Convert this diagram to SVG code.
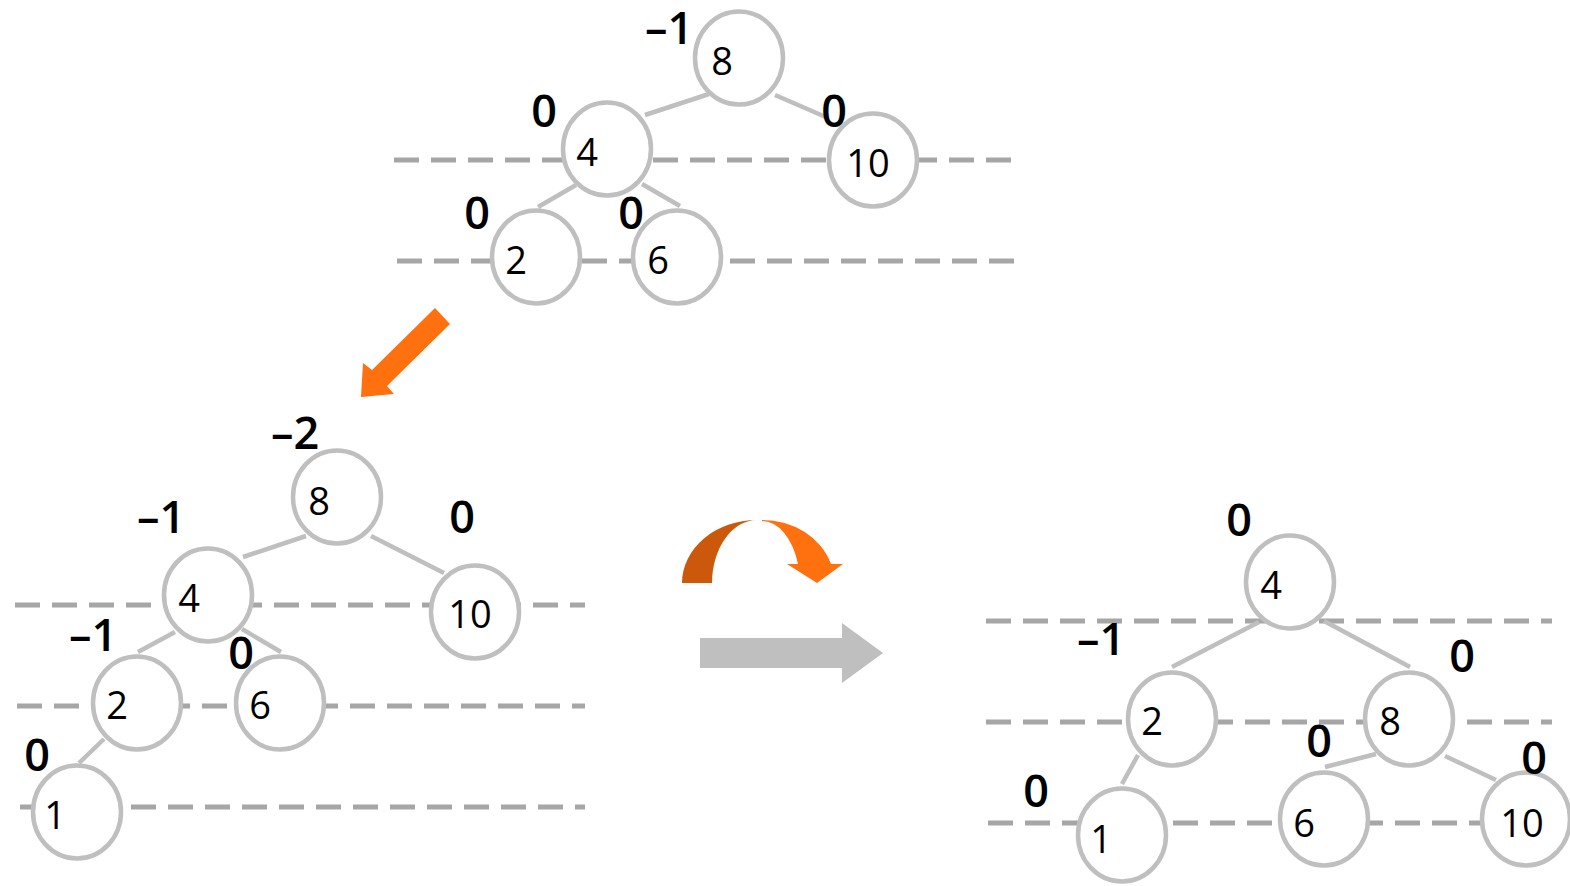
<svg xmlns="http://www.w3.org/2000/svg" width="1570" height="886" viewBox="0 0 1570 886">
  <style>
    .level { stroke: #a6a6a6; stroke-width: 5; stroke-dasharray: 25 12; fill: none; }
    .edge { stroke: #bfbfbf; stroke-width: 4.5; fill: none; }
    .node ellipse { fill: #ffffff; stroke: #bfbfbf; stroke-width: 4.5; }
    .val { font-family: "Open Sans", "DejaVu Sans", sans-serif; font-size: 38px; fill: #000; text-anchor: middle; }
    .bf { font-family: "Open Sans", "DejaVu Sans", sans-serif; font-size: 45px; font-weight: 600; fill: #000; text-anchor: middle; }
  </style>
  <rect width="1570" height="886" fill="#ffffff"/>

  <!-- height guide lines -->
  <g id="levels">
    <line class="level" x1="394" y1="160" x2="1015" y2="160"/>
    <line class="level" x1="397" y1="261" x2="1017" y2="261"/>
    <line class="level" x1="15" y1="605" x2="585" y2="605"/>
    <line class="level" x1="17" y1="706" x2="585" y2="706"/>
    <line class="level" x1="20" y1="807" x2="585" y2="807"/>
    <line class="level" x1="986" y1="621" x2="1552" y2="621"/>
    <line class="level" x1="986" y1="722" x2="1552" y2="722"/>
    <line class="level" x1="988" y1="823" x2="1552" y2="823"/>
  </g>

  <!-- tree edges -->
  <g id="connectors">
    <line class="edge" x1="709" y1="94" x2="645" y2="115"/>
    <line class="edge" x1="775" y1="95" x2="828" y2="118"/>
    <line class="edge" x1="576" y1="185" x2="538" y2="207"/>
    <line class="edge" x1="642" y1="184" x2="680" y2="206"/>

    <line class="edge" x1="306" y1="536" x2="243" y2="557"/>
    <line class="edge" x1="371" y1="536" x2="444" y2="573"/>
    <line class="edge" x1="175" y1="632" x2="138" y2="652"/>
    <line class="edge" x1="242" y1="629" x2="281" y2="652"/>
    <line class="edge" x1="104" y1="739" x2="79" y2="763"/>

    <line class="edge" x1="1259" y1="622" x2="1172" y2="667"/>
    <line class="edge" x1="1324" y1="621" x2="1410" y2="667"/>
    <line class="edge" x1="1138" y1="755" x2="1122" y2="784"/>
    <line class="edge" x1="1376" y1="754" x2="1325" y2="767"/>
    <line class="edge" x1="1445" y1="756" x2="1496" y2="780"/>
  </g>

  <!-- tree before insertion -->
  <g id="t1-n8" class="node"><ellipse cx="739" cy="58" rx="44" ry="46.5"/><text class="val" x="722" y="75">8</text><text class="bf" x="669" y="44">–1</text></g>
  <g id="t1-n4" class="node"><ellipse cx="607" cy="149" rx="44" ry="46.5"/><text class="val" x="587" y="166">4</text><text class="bf" x="544" y="127">0</text></g>
  <g id="t1-n10" class="node"><ellipse cx="873" cy="160" rx="44" ry="46.5"/><text class="val" x="868" y="177">10</text><text class="bf" x="834" y="127">0</text></g>
  <g id="t1-n2" class="node"><ellipse cx="536" cy="257" rx="44" ry="46.5"/><text class="val" x="516" y="274">2</text><text class="bf" x="477" y="229">0</text></g>
  <g id="t1-n6" class="node"><ellipse cx="677" cy="257" rx="44" ry="46.5"/><text class="val" x="658" y="274">6</text><text class="bf" x="631" y="229">0</text></g>

  <!-- tree after inserting 1 -->
  <g id="t2-n8" class="node"><ellipse cx="337" cy="497" rx="44" ry="46.5"/><text class="val" x="319" y="515">8</text><text class="bf" x="295" y="449">–2</text></g>
  <g id="t2-n4" class="node"><ellipse cx="208" cy="595" rx="44" ry="46.5"/><text class="val" x="189" y="612">4</text><text class="bf" x="161" y="533">–1</text></g>
  <g id="t2-n10" class="node"><ellipse cx="475" cy="612" rx="44" ry="46.5"/><text class="val" x="470" y="628">10</text><text class="bf" x="462" y="533">0</text></g>
  <g id="t2-n2" class="node"><ellipse cx="137" cy="703" rx="44" ry="46.5"/><text class="val" x="117" y="719">2</text><text class="bf" x="93" y="651">–1</text></g>
  <g id="t2-n6" class="node"><ellipse cx="280" cy="703" rx="44" ry="46.5"/><text class="val" x="260" y="719">6</text><text class="bf" x="241" y="669">0</text></g>
  <g id="t2-n1" class="node"><ellipse cx="77" cy="812" rx="44" ry="46.5"/><text class="val" x="55" y="829">1</text><text class="bf" x="37" y="771">0</text></g>

  <!-- tree after right rotation -->
  <g id="t3-n4" class="node"><ellipse cx="1290" cy="582" rx="44" ry="46.5"/><text class="val" x="1271" y="599">4</text><text class="bf" x="1239" y="536">0</text></g>
  <g id="t3-n2" class="node"><ellipse cx="1172" cy="719" rx="44" ry="46.5"/><text class="val" x="1152" y="735">2</text><text class="bf" x="1101" y="655">–1</text></g>
  <g id="t3-n8" class="node"><ellipse cx="1409" cy="719" rx="44" ry="46.5"/><text class="val" x="1390" y="735">8</text><text class="bf" x="1462" y="672">0</text></g>
  <g id="t3-n1" class="node"><ellipse cx="1122" cy="835" rx="44" ry="46.5"/><text class="val" x="1101" y="853">1</text><text class="bf" x="1036" y="807">0</text></g>
  <g id="t3-n6" class="node"><ellipse cx="1324" cy="819" rx="44" ry="46.5"/><text class="val" x="1304" y="837">6</text><text class="bf" x="1319" y="757">0</text></g>
  <g id="t3-n10" class="node"><ellipse cx="1526" cy="819" rx="44" ry="46.5"/><text class="val" x="1522" y="837">10</text><text class="bf" x="1534" y="774">0</text></g>

  <!-- step arrows -->
  <g id="arrows">
    <polygon fill="#ff700f" points="435,308 450,324 387,386 394,394 361,397 363,363 372,370"/>
    <path fill="#cc590b" d="M682,583 A75 63 0 0 1 757,520 A45 63 0 0 0 712,583 Z"/>
    <path fill="#ff700f" d="M762,520 A72 63 0 0 1 831,564 L843,564 L817,583 L787,564 L798,564 A38 63 0 0 0 762,521 Z"/>
    <polygon fill="#bfbfbf" points="700,638 842,638 842,623 883,653 842,683 842,668 700,668"/>
  </g>
</svg>
